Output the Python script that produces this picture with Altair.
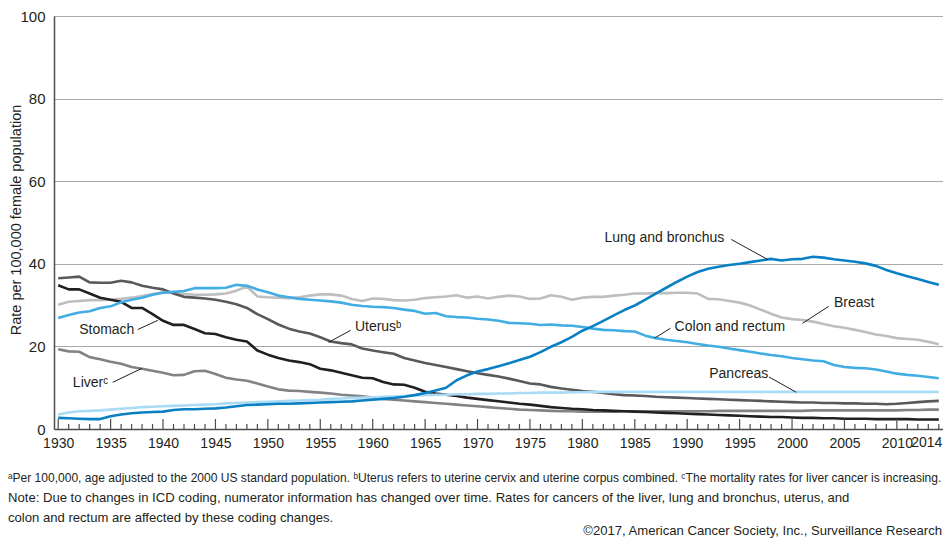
import altair as alt
import pandas as pd

years = list(range(1930, 2015))

stomach = [34.8, 33.8, 33.8, 32.8, 31.8, 31.3, 30.8, 29.3, 29.3, 27.8,
           26.2, 25.2, 25.2, 24.2, 23.2, 23.0, 22.2, 21.6, 21.2, 19.0,
           18.0, 17.2, 16.6, 16.2, 15.7, 14.6, 14.2, 13.6, 13.0, 12.4,
           12.3, 11.4, 10.8, 10.7, 10.0, 9.0, 8.6, 8.3, 8.0, 7.6,
           7.3, 7.0, 6.7, 6.4, 6.1, 5.9, 5.6, 5.3, 5.1, 4.9,
           4.8, 4.6, 4.5, 4.4, 4.3, 4.2, 4.1, 4.0, 3.9, 3.8,
           3.7, 3.6, 3.5, 3.4, 3.3, 3.2, 3.1, 3.0, 2.9, 2.9,
           2.8, 2.7, 2.7, 2.6, 2.6, 2.5, 2.5, 2.5, 2.4, 2.4,
           2.4, 2.4, 2.3, 2.3, 2.3]

uterus = [36.5, 36.7, 36.9, 35.5, 35.4, 35.4, 35.9, 35.5, 34.7, 34.2,
          33.8, 32.8, 32.0, 31.8, 31.6, 31.3, 30.8, 30.2, 29.3, 27.8,
          26.6, 25.3, 24.3, 23.6, 23.1, 22.2, 21.2, 20.8, 20.5, 19.5,
          19.0, 18.6, 18.2, 17.2, 16.6, 16.0, 15.5, 15.0, 14.5, 14.0,
          13.5, 13.1, 12.7, 12.2, 11.6, 11.0, 10.8, 10.2, 9.8, 9.5,
          9.2, 9.0, 8.7, 8.4, 8.2, 8.1, 8.0, 7.8, 7.7, 7.6,
          7.5, 7.4, 7.3, 7.2, 7.1, 7.0, 6.9, 6.8, 6.7, 6.6,
          6.5, 6.4, 6.4, 6.3, 6.3, 6.2, 6.2, 6.1, 6.1, 6.0,
          6.1, 6.3, 6.5, 6.7, 6.8]

liver = [19.3, 18.8, 18.7, 17.4, 16.9, 16.3, 15.8, 15.0, 14.6, 14.1,
         13.6, 13.0, 13.1, 14.0, 14.1, 13.3, 12.4, 12.0, 11.7, 11.0,
         10.3, 9.6, 9.3, 9.2, 9.0, 8.8, 8.6, 8.3, 8.1, 7.9,
         7.6, 7.3, 7.1, 6.9, 6.7, 6.5, 6.3, 6.1, 5.9, 5.7,
         5.5, 5.3, 5.1, 4.9, 4.7, 4.6, 4.5, 4.4, 4.3, 4.3,
         4.2, 4.2, 4.2, 4.2, 4.3, 4.3, 4.3, 4.3, 4.3, 4.3,
         4.3, 4.3, 4.3, 4.4, 4.4, 4.4, 4.4, 4.4, 4.4, 4.4,
         4.4, 4.4, 4.5, 4.5, 4.5, 4.5, 4.5, 4.5, 4.5, 4.5,
         4.5, 4.6, 4.6, 4.7, 4.7]

breast = [30.1, 30.8, 31.0, 31.2, 31.2, 31.3, 31.5, 31.8, 32.2, 32.7,
          33.1, 33.0, 32.7, 32.5, 32.5, 32.6, 32.8, 33.5, 34.5, 32.1,
          31.9, 31.8, 31.7, 31.9, 32.3, 32.6, 32.6, 32.3, 31.5, 31.0,
          31.6, 31.5, 31.2, 31.1, 31.3, 31.7, 31.9, 32.1, 32.4, 31.8,
          32.1, 31.6, 32.0, 32.3, 32.1, 31.5, 31.6, 32.4, 32.0, 31.3,
          31.8, 32.0, 32.0, 32.3, 32.5, 32.8, 32.8, 32.9, 32.9, 33.0,
          33.0, 32.8, 31.5, 31.4, 31.0, 30.6, 29.9, 28.9, 27.9, 27.0,
          26.6, 26.4, 26.0, 25.4, 24.9, 24.5, 24.0, 23.5, 22.9, 22.5,
          22.0, 21.8, 21.6, 21.1, 20.5]

colon = [26.9, 27.6, 28.2, 28.5, 29.3, 29.7, 30.7, 31.3, 31.8, 32.5,
         33.0, 33.2, 33.4, 34.1, 34.1, 34.1, 34.2, 34.9, 34.7, 33.8,
         33.1, 32.3, 31.9, 31.5, 31.3, 31.1, 30.9, 30.6, 30.1, 29.8,
         29.6, 29.5, 29.3, 28.9, 28.6, 27.9, 28.1, 27.3, 27.1, 27.0,
         26.7, 26.5, 26.2, 25.7, 25.6, 25.5, 25.2, 25.3, 25.1, 25.0,
         24.7, 24.3, 24.0, 23.9, 23.7, 23.6, 22.6, 22.0, 21.6, 21.3,
         21.0, 20.6, 20.2, 19.9, 19.5, 19.1, 18.7, 18.3, 17.9, 17.6,
         17.2, 16.9, 16.6, 16.4, 15.5, 15.0, 14.8, 14.7, 14.4, 13.9,
         13.4, 13.1, 12.9, 12.6, 12.3]

lung = [2.7, 2.6, 2.5, 2.4, 2.4, 3.1, 3.5, 3.8, 4.0, 4.1,
        4.2, 4.6, 4.8, 4.8, 4.9, 5.0, 5.2, 5.5, 5.8, 5.9,
        6.0, 6.1, 6.1, 6.2, 6.3, 6.4, 6.5, 6.6, 6.7, 6.9,
        7.1, 7.3, 7.5, 7.8, 8.2, 8.7, 9.3, 10.0, 11.8, 13.0,
        13.9, 14.5, 15.2, 15.9, 16.7, 17.5, 18.6, 19.9, 21.0, 22.3,
        23.8, 24.9, 26.2, 27.5, 28.8, 29.9, 31.3, 32.8, 34.2, 35.6,
        36.9, 38.0, 38.8, 39.3, 39.7, 40.0, 40.4, 40.8, 41.2, 40.8,
        41.1, 41.2, 41.7, 41.5, 41.1, 40.8, 40.5, 40.1, 39.5, 38.5,
        37.7, 37.0, 36.3, 35.6, 34.9]

pancreas = [3.5, 4.0, 4.3, 4.4, 4.5, 4.7, 4.9, 5.1, 5.3, 5.4,
            5.5, 5.6, 5.7, 5.8, 5.9, 6.0, 6.2, 6.3, 6.4, 6.5,
            6.6, 6.7, 6.8, 6.9, 7.0, 7.1, 7.3, 7.4, 7.5, 7.6,
            7.7, 7.8, 7.9, 8.0, 8.1, 8.2, 8.3, 8.3, 8.4, 8.4,
            8.5, 8.5, 8.6, 8.6, 8.7, 8.7, 8.8, 8.8, 8.8, 8.9,
            8.9, 9.0, 9.0, 9.0, 9.0, 9.0, 9.0, 9.0, 9.0, 9.0,
            9.0, 9.0, 9.0, 9.0, 9.0, 9.0, 9.0, 9.0, 9.0, 9.0,
            9.0, 9.0, 9.0, 9.0, 9.0, 9.0, 9.0, 9.0, 9.0, 9.0,
            9.0, 9.0, 9.0, 9.0, 9.0]

series_names = ["Breast", "Liver", "Uterus", "Stomach", "Pancreas",
                "Colon and rectum", "Lung and bronchus"]
series_values = [breast, liver, uterus, stomach, pancreas, colon, lung]
series_colors = ["#bcbec0", "#808285", "#58595b", "#231f20", "#a9dbf5",
                 "#41ade2", "#0a80c4"]

x_label_values = [1930, 1935, 1940, 1945, 1950, 1955, 1960, 1965, 1970,
                  1975, 1980, 1985, 1990, 1995, 2000, 2005, 2010]
last_year_label = [2014]
y_values = [0, 20, 40, 60, 80, 100]

# annotation labels (data coordinates)
label_text = ["Lung and bronchus", "Breast", "Colon and rectum", "Pancreas",
              "Uterus\u1d47", "Stomach", "Liver\u1d9c"]
label_year = [1982.1, 2004.0, 1988.8, 1992.1, 1958.3, 1932.0, 1931.4]
label_rate = [46.3, 30.4, 24.6, 13.3, 24.6, 23.9, 11.1]

leader_x1 = [1994.2, 2003.5, 1988.4, 1997.8, 1957.9, 1937.6, 1935.2]
leader_y1 = [45.9, 29.7, 24.4, 12.6, 23.9, 24.1, 11.3]
leader_x2 = [1997.7, 2001.0, 1986.9, 2000.4, 1955.8, 1939.5, 1938.0]
leader_y2 = [41.0, 25.6, 22.0, 8.9, 21.0, 26.3, 14.7]

footnotes = [
    "\u1d43Per 100,000, age adjusted to the 2000 US standard population. "
    "\u1d47Uterus refers to uterine cervix and uterine corpus combined. "
    "\u1d9cThe mortality rates for liver cancer is increasing.",
    "Note: Due to changes in ICD coding, numerator information has changed over time. "
    "Rates for cancers of the liver, lung and bronchus, uterus, and",
    "colon and rectum are affected by these coding changes.",
]
credit = "\u00a92017, American Cancer Society, Inc., Surveillance Research"

FONT = "Liberation Sans"
TXT = "#231f20"
W, H = 889, 413

rows = []
for name, vals in zip(series_names, series_values):
    for yr, v in zip(years, vals):
        rows.append({"series": name, "year": yr, "rate": v})
df = pd.DataFrame(rows)

xscale = alt.Scale(domain=[1929.6, 2014.4], nice=False, zero=False)
yscale = alt.Scale(domain=[0, 100], nice=False)

lines = alt.Chart(df).mark_line(strokeWidth=2.6, strokeJoin="round").encode(
    x=alt.X("year:Q", scale=xscale,
            axis=alt.Axis(values=x_label_values, format="d", title=None,
                          grid=False, ticks=False, tickSize=0,
                          domainColor="#4d4d4f", domainWidth=1.5,
                          labelFont=FONT, labelFontSize=14, labelColor=TXT,
                          labelPadding=7, labelOverlap=False, labelBound=False,
                          labelFlush=False)),
    y=alt.Y("rate:Q", scale=yscale,
            axis=alt.Axis(values=y_values, title="Rate per 100,000 female population",
                          grid=True, gridColor="#a7a9ac", gridWidth=1,
                          ticks=False, tickSize=0,
                          domainColor="#4d4d4f", domainWidth=1.5,
                          labelFont=FONT, labelFontSize=15, labelColor=TXT,
                          labelPadding=9, labelOverlap=False,
                          titleFont=FONT, titleFontSize=14.5, titleFontWeight="normal",
                          titleColor=TXT, titleX=-38, titleY=H / 2 - 3, titleAngle=-90,
                          titleBaseline="middle", titleAlign="center")),
    color=alt.Color("series:N", scale=alt.Scale(domain=series_names, range=series_colors),
                    legend=None),
    order=alt.Order("year:Q"),
)

last_label = alt.Chart(pd.DataFrame({"year": last_year_label})).mark_text(
    align="right", baseline="top", dx=3.5, font=FONT, fontSize=14, color=TXT
).encode(x=alt.X("year:Q", scale=xscale), y=alt.value(H + 7), text=alt.Text("year:Q", format="d"))

tick_df = pd.DataFrame({"year": years,
                        "major": [(y - 1930) % 5 == 0 and y <= 2010 for y in years]})
minor_ticks = alt.Chart(tick_df).transform_filter("!datum.major").mark_rule(
    color="#4d4d4f", strokeWidth=1.2).encode(
    x=alt.X("year:Q", scale=xscale), y=alt.value(H - 5), y2=alt.value(H))
major_ticks = alt.Chart(tick_df).transform_filter("datum.major").mark_rule(
    color="#4d4d4f", strokeWidth=1.2).encode(
    x=alt.X("year:Q", scale=xscale), y=alt.value(H - 10), y2=alt.value(H))

lab_df = pd.DataFrame({"text": label_text, "year": label_year, "rate": label_rate})
labels = alt.Chart(lab_df).mark_text(align="left", baseline="middle", font=FONT,
                                     fontSize=14, color=TXT).encode(
    x=alt.X("year:Q", scale=xscale), y=alt.Y("rate:Q", scale=yscale), text="text:N")

lead_df = pd.DataFrame({"x1": leader_x1, "y1": leader_y1, "x2": leader_x2, "y2": leader_y2})
leaders = alt.Chart(lead_df).mark_rule(color=TXT, strokeWidth=1).encode(
    x=alt.X("x1:Q", scale=xscale), y=alt.Y("y1:Q", scale=yscale),
    x2="x2:Q", y2="y2:Q")

foot_sizes = [12.05, 13.1, 13.1]
foot_y = [462, 482, 502]
foot_layers = []
for i, t in enumerate(footnotes):
    foot_layers.append(
        alt.Chart(pd.DataFrame({"text": [t]})).mark_text(
            align="left", baseline="middle", font=FONT, fontSize=foot_sizes[i], color=TXT
        ).encode(x=alt.value(-46), y=alt.value(foot_y[i]), text="text:N"))
foot_layers.append(
    alt.Chart(pd.DataFrame({"text": [credit]})).mark_text(
        align="right", baseline="middle", font=FONT, fontSize=13.1, color=TXT
    ).encode(x=alt.value(888), y=alt.value(515), text="text:N"))

chart = alt.layer(lines, minor_ticks, major_ticks, leaders, labels, last_label,
                  *foot_layers).properties(
    width=W, height=H,
    autosize=alt.AutoSizeParams(type="none"),
    padding={"left": 46, "top": 8, "right": 0, "bottom": 109},
).configure_view(stroke=None)

chart.save("out.html", embed_options={"renderer": "svg", "actions": False})
